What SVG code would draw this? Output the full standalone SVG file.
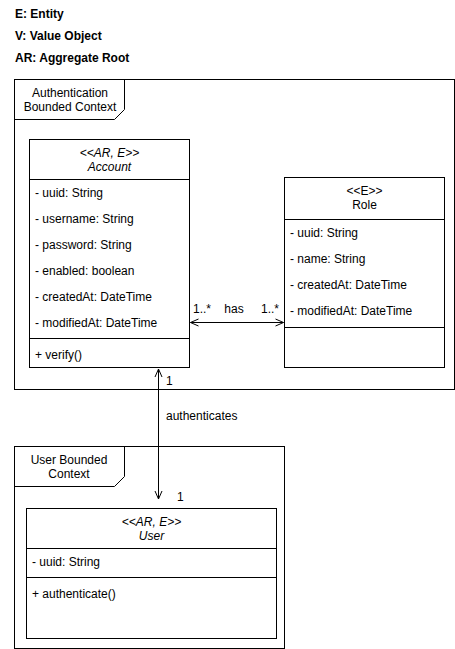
<svg xmlns="http://www.w3.org/2000/svg" width="455" height="649" viewBox="0 0 455 649">
  <style>
    text { font-family: "Liberation Sans", Arial, sans-serif; font-size: 12px; fill: #000; }
    .b { font-weight: bold; }
    .i { font-style: italic; }
    .c { text-anchor: middle; }
    .box { fill: #fff; stroke: #000; stroke-width: 1; }
    .ln { fill: none; stroke: #000; stroke-width: 1; }
  </style>
  <defs>
    <marker id="open" viewBox="0 0 10 10" refX="9" refY="5" markerWidth="10" markerHeight="10" markerUnits="userSpaceOnUse" orient="auto-start-reverse">
      <path d="M1,1.5 L9,5 L1,8.5" fill="none" stroke="#000" stroke-width="1"/>
    </marker>
  </defs>
  <rect width="455" height="649" fill="#fff"/>

  <!-- legend -->
  <g id="legend">
    <text class="b" x="15" y="18">E: Entity</text>
    <text class="b" x="15" y="40">V: Value Object</text>
    <text class="b" x="15" y="62">AR: Aggregate Root</text>
  </g>

  <!-- authentication context package -->
  <g id="auth-context">
    <rect class="box" x="14.5" y="79.5" width="440" height="310"/>
    <path class="ln" d="M14.5,119.5 H114.5 L124.5,109.5 V79.5"/>
    <text class="c" x="70" y="97">Authentication</text>
    <text class="c" x="70" y="111">Bounded Context</text>
  </g>

  <!-- Account class -->
  <g id="account">
    <rect class="box" x="29.5" y="139.5" width="160" height="228"/>
    <path class="ln" d="M29.5,179.5 H189.5 M29.5,338.5 H189.5"/>
    <text class="c i" x="109.5" y="157">&lt;&lt;AR, E&gt;&gt;</text>
    <text class="c i" x="109.5" y="171">Account</text>
    <text x="35" y="197">- uuid: String</text>
    <text x="35" y="223">- username: String</text>
    <text x="35" y="249">- password: String</text>
    <text x="35" y="275">- enabled: boolean</text>
    <text x="35" y="301">- createdAt: DateTime</text>
    <text x="35" y="327">- modifiedAt: DateTime</text>
    <text x="35" y="359">+ verify()</text>
  </g>

  <!-- Role class -->
  <g id="role">
    <rect class="box" x="284.5" y="177.5" width="160" height="190"/>
    <path class="ln" d="M284.5,219.5 H444.5 M284.5,327.5 H444.5"/>
    <text class="c" x="364.5" y="195">&lt;&lt;E&gt;&gt;</text>
    <text class="c" x="364.5" y="209">Role</text>
    <text x="290" y="237">- uuid: String</text>
    <text x="290" y="263">- name: String</text>
    <text x="290" y="289">- createdAt: DateTime</text>
    <text x="290" y="315">- modifiedAt: DateTime</text>
  </g>

  <!-- user context package -->
  <g id="user-context">
    <rect class="box" x="14.5" y="446.5" width="270" height="202"/>
    <path class="ln" d="M14.5,486.5 H114.5 L124.5,476.5 V446.5"/>
    <text class="c" x="69" y="464">User Bounded</text>
    <text class="c" x="69" y="478">Context</text>
  </g>

  <!-- User class -->
  <g id="user">
    <rect class="box" x="26.5" y="508.5" width="250" height="130"/>
    <path class="ln" d="M26.5,548.5 H276.5 M26.5,577.5 H276.5"/>
    <text class="c i" x="151.5" y="526">&lt;&lt;AR, E&gt;&gt;</text>
    <text class="c i" x="151.5" y="540">User</text>
    <text x="32" y="566">- uuid: String</text>
    <text x="32" y="598">+ authenticate()</text>
  </g>

  <!-- connectors -->
  <g id="connectors">
    <line class="ln" x1="190.5" y1="322.5" x2="283.5" y2="322.5" marker-start="url(#open)" marker-end="url(#open)"/>
    <text x="193" y="313">1..*</text>
    <text class="c" x="234" y="313">has</text>
    <text x="261" y="313">1..*</text>

    <line class="ln" x1="158.5" y1="369" x2="158.5" y2="499" marker-start="url(#open)" marker-end="url(#open)"/>
    <text x="166" y="385">1</text>
    <text x="166" y="420">authenticates</text>
    <text x="177" y="501">1</text>
  </g>
</svg>
